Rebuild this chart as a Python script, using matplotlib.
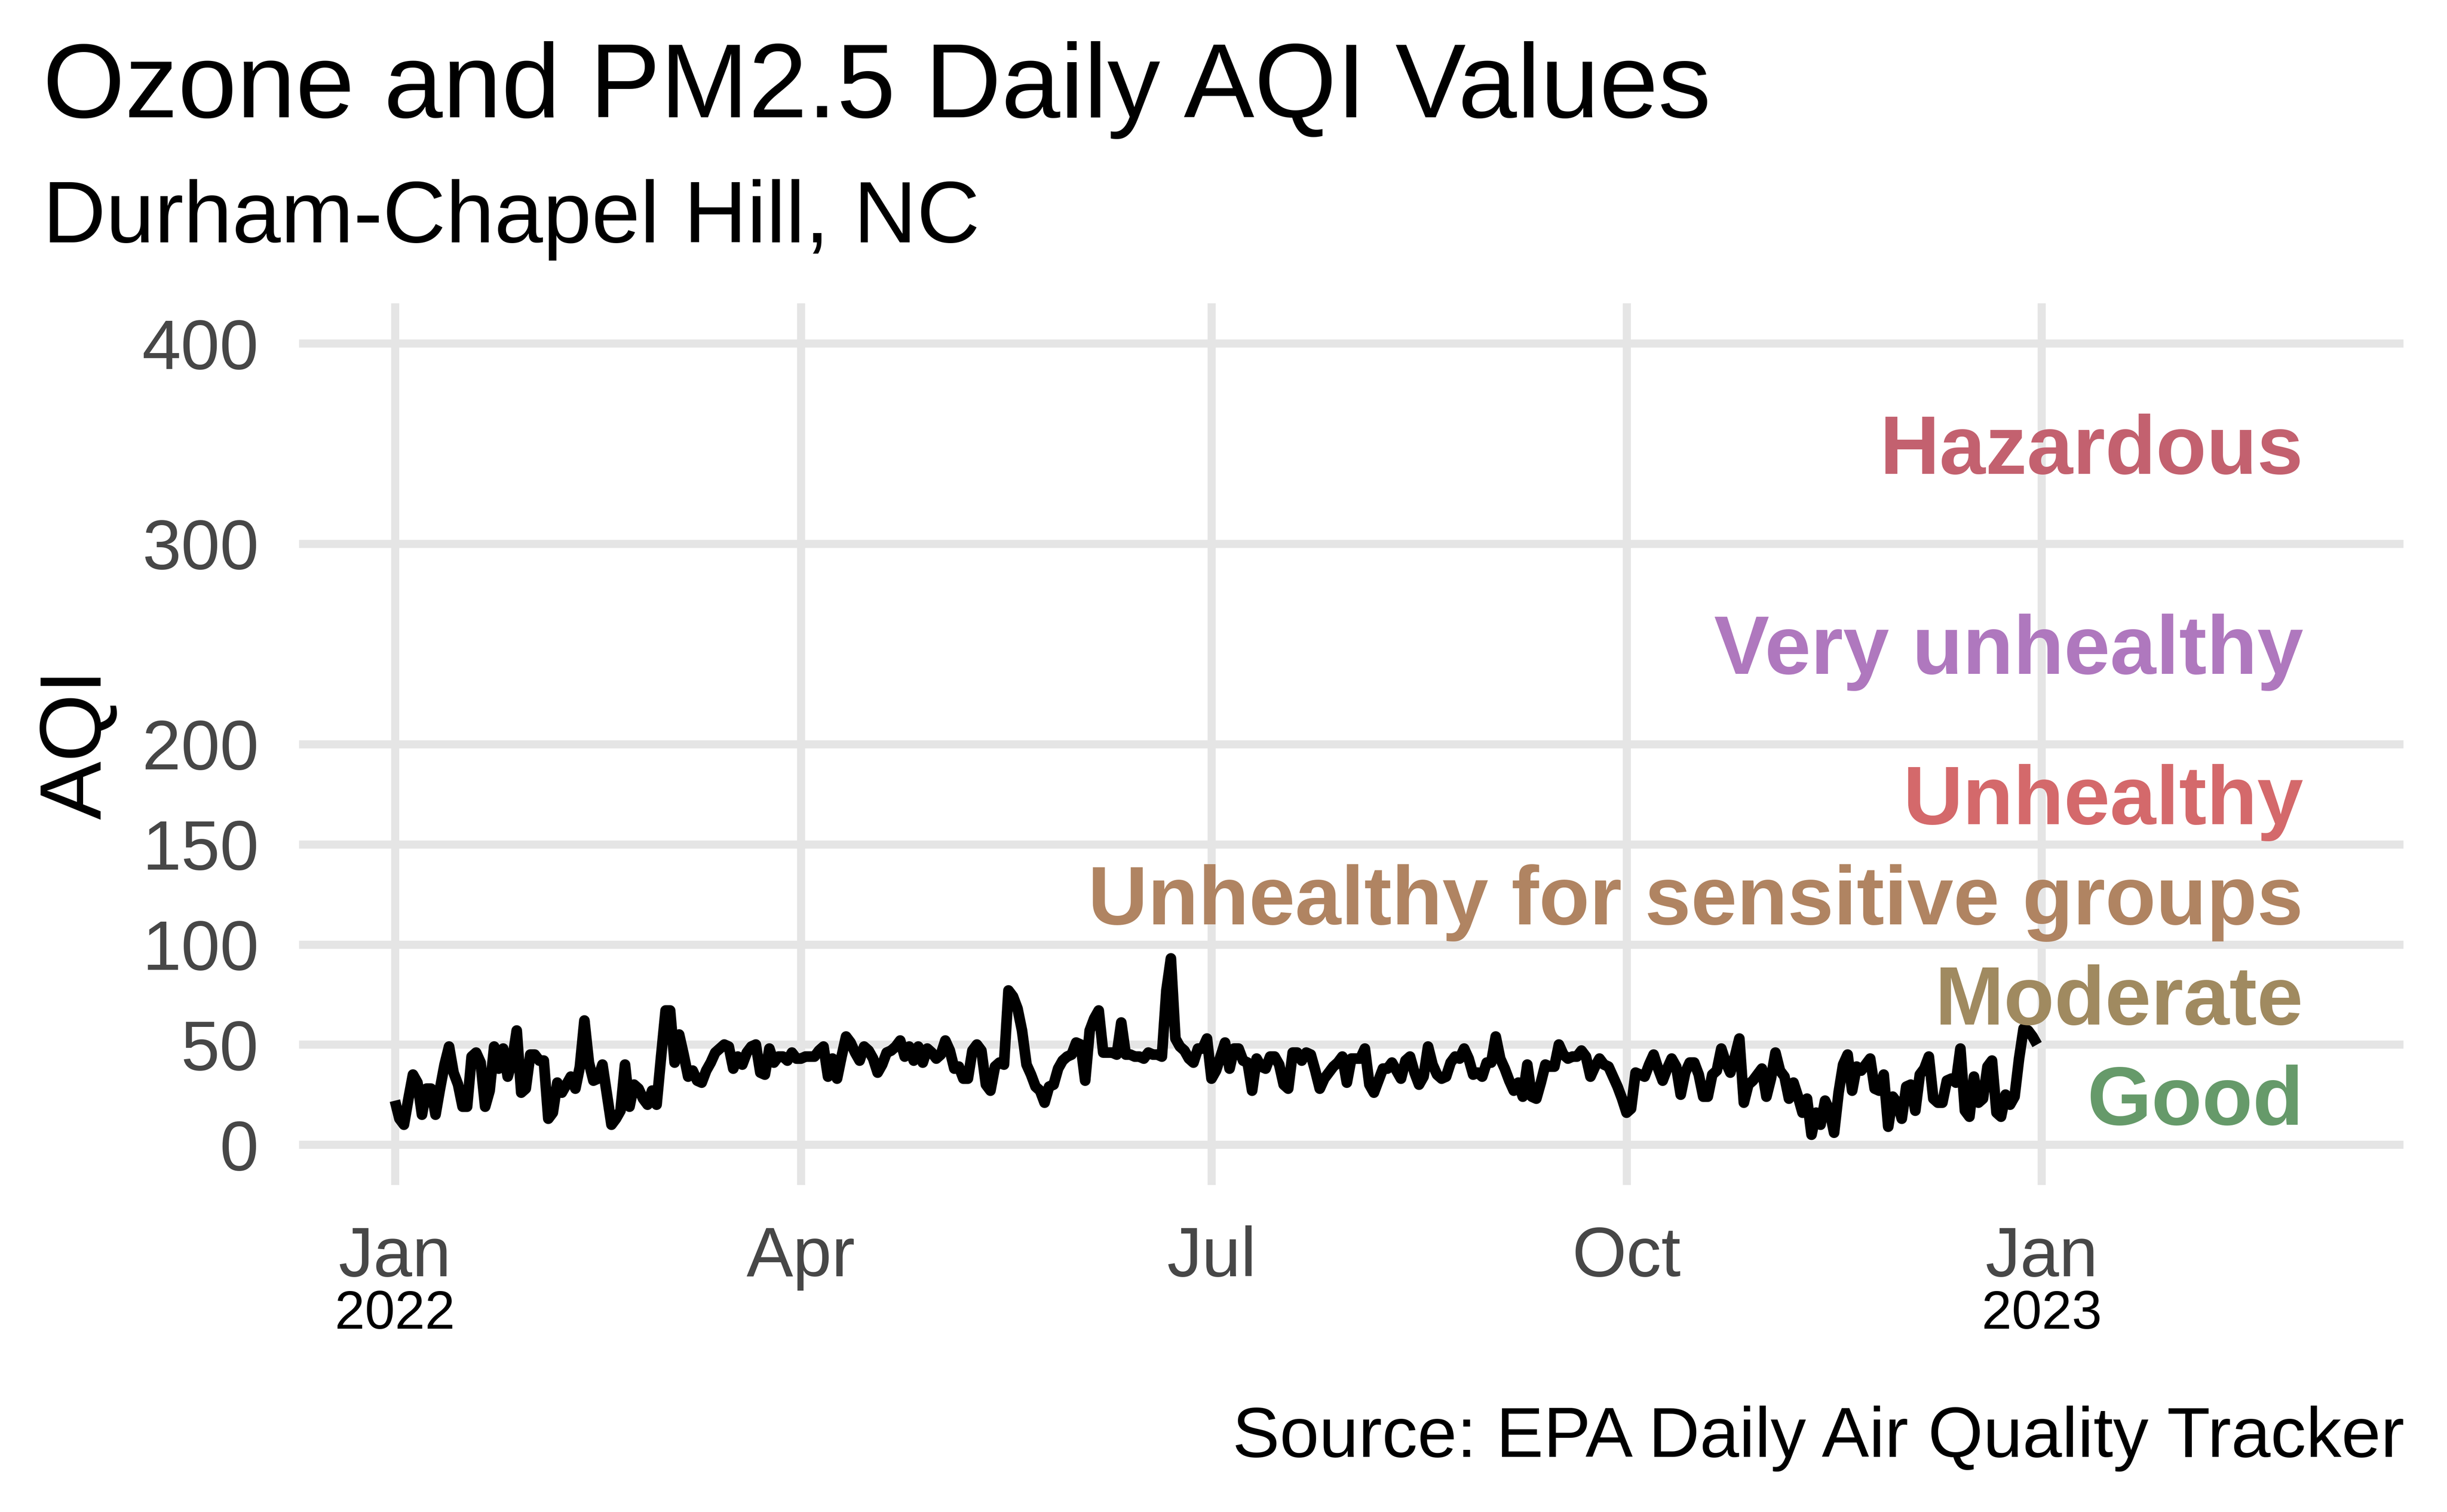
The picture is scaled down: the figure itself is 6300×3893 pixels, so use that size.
import matplotlib
matplotlib.use("Agg")
import matplotlib.pyplot as plt
import matplotlib.dates as mdates
import matplotlib.transforms as mtransforms
import pandas as pd

plt.rcParams['font.family'] = ['Liberation Sans', 'DejaVu Sans']

# daily AQI (max of ozone / PM2.5), 2022-01-01 .. 2022-12-31
aqi = [
    22, 13, 10, 23, 35, 31, 15, 28, 28, 15,
    28, 40, 49, 36, 30, 19, 19, 44, 46, 41,
    19, 27, 49, 38, 48, 34, 42, 57, 26, 28,
    45, 45, 42, 42, 13, 16, 31, 26, 30, 34,
    28, 39, 62, 41, 32, 33, 40, 25, 10, 13,
    17, 40, 19, 30, 28, 23, 20, 27, 20, 44,
    67, 67, 41, 55, 45, 34, 37, 32, 31, 37,
    41, 46, 48, 50, 49, 38, 44, 40, 46, 49,
    50, 36, 35, 48, 41, 44, 44, 42, 46, 43,
    43, 44, 44, 44, 47, 49, 34, 43, 33, 44,
    54, 51, 46, 42, 49, 47, 43, 36, 40, 46,
    47, 49, 52, 44, 49, 42, 49, 41, 48, 46,
    43, 45, 52, 47, 38, 39, 33, 33, 47, 50,
    47, 30, 27, 39, 41, 40, 77, 74, 68, 57,
    40, 35, 29, 27, 21, 29, 30, 38, 42, 44,
    45, 51, 50, 32, 57, 63, 67, 46, 46, 46,
    45, 61, 45, 45, 44, 44, 43, 46, 45, 45,
    44, 77, 93, 53, 49, 47, 43, 41, 48, 48,
    53, 33, 37, 44, 51, 38, 48, 48, 42, 41,
    27, 43, 39, 38, 44, 44, 40, 30, 28, 46,
    46, 42, 46, 45, 37, 28, 33, 36, 39, 41,
    44, 31, 43, 43, 43, 48, 30, 26, 32, 38,
    38, 41, 37, 33, 42, 44, 36, 30, 34, 49,
    40, 35, 33, 34, 41, 44, 43, 48, 43, 35,
    36, 34, 41, 41, 54, 43, 38, 32, 27, 31,
    24, 40, 24, 23, 31, 40, 39, 39, 50, 45,
    43, 44, 44, 47, 44, 34, 39, 43, 40, 39,
    34, 29, 23, 16, 18, 36, 35, 34, 40, 45,
    38, 32, 38, 43, 39, 25, 36, 41, 41, 35,
    24, 24, 35, 37, 48, 41, 36, 44, 53, 21,
    30, 32, 35, 38, 24, 33, 46, 37, 34, 23,
    31, 24, 16, 23, 5, 16, 10, 22, 17, 6,
    26, 40, 45, 27, 39, 37, 40, 43, 28, 27,
    35, 9, 24, 21, 13, 29, 30, 17, 35, 38,
    44, 23, 21, 21, 32, 33, 31, 48, 17, 14,
    34, 21, 23, 39, 42, 16, 14, 25, 20, 24,
    43, 58, 57, 54, 50,
]
dates = pd.date_range('2022-01-01', periods=len(aqi), freq='D')

categories = ['Good', 'Moderate', 'Unhealthy for sensitive groups',
              'Unhealthy', 'Very unhealthy', 'Hazardous']
category_mid = [25, 75, 125, 175, 250, 350]
category_colors = ['#669A6A', '#A08A60', '#B08462', '#D4696B', '#AF78BE', '#C3616F']

y_breaks = [0, 50, 100, 150, 200, 300, 400]
x_breaks = pd.to_datetime(['2022-01-01', '2022-04-01', '2022-07-01',
                           '2022-10-01', '2023-01-01'])
x_labels = ['Jan', 'Apr', 'Jul', 'Oct', 'Jan']
year_dates = pd.to_datetime(['2022-01-01', '2023-01-01'])
year_labels = ['2022', '2023']
x_end = pd.Timestamp('2023-03-01')        # right end of the x range
label_date = pd.Timestamp('2023-02-28')   # category labels end here

fig = plt.figure(figsize=(10.5, 6.48834), dpi=600)
ax = fig.add_axes([0.1223, 0.2164, 0.8599, 0.5830])

ax.plot(dates, aqi, color='black', linewidth=3.3,
        solid_joinstyle='round', solid_capstyle='butt', zorder=3)

for name, y, col in zip(categories, category_mid, category_colors):
    ax.text(label_date, y, name, ha='right', va='center_baseline',
            fontsize=25.6, fontweight='bold', color=col, zorder=4)

x0 = mdates.date2num(dates[0])
x1 = mdates.date2num(x_end)
span = x1 - x0
ax.set_xlim(x0 - 0.05 * span, x1 + 0.05 * span)
ax.set_ylim(-20, 420)

ax.set_yticks(y_breaks)
ax.set_xticks(x_breaks)
ax.set_xticklabels(x_labels)
ax.tick_params(axis='both', length=0, pad=12.5, labelsize=21.6, labelcolor='#474747')

trans = mtransforms.blended_transform_factory(ax.transData, ax.transAxes)
for d, lab in zip(year_dates, year_labels):
    ax.text(d, -0.163, lab, transform=trans, ha='center', va='baseline',
            fontsize=16.7, color='black')

ax.grid(True, color='#E5E5E5', linewidth=2.5)
ax.set_axisbelow(True)
for s in ax.spines.values():
    s.set_visible(False)

ax.text(-0.105, 0.5, 'AQI', transform=ax.transAxes, rotation=90,
        ha='center', va='center', fontsize=27, color='black')

fig.text(0.0175, 0.9224, 'Ozone and PM2.5 Daily AQI Values', fontsize=32.7,
         ha='left', va='baseline')
fig.text(0.0175, 0.8397, 'Durham-Chapel Hill, NC', fontsize=27,
         ha='left', va='baseline')
fig.text(0.9826, 0.0365, 'Source: EPA Daily Air Quality Tracker', fontsize=21.9,
         ha='right', va='baseline')

fig.savefig('out.png', dpi=600)
